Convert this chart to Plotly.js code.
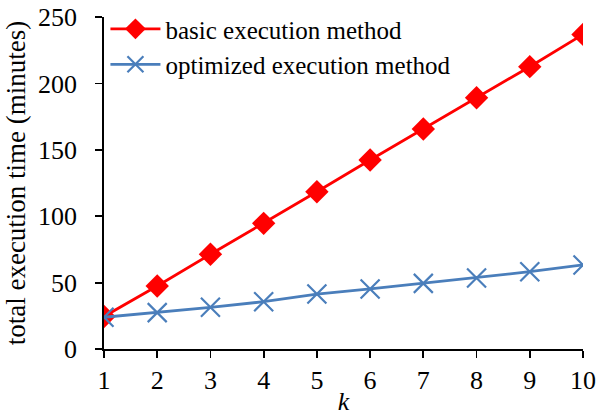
<!DOCTYPE html>
<html><head><meta charset="utf-8">
<script src="https://cdn.plot.ly/plotly-3.0.1.min.js"></script>
<style>body{margin:0;background:#fff}#c{width:604px;height:416px}</style>
</head><body><div id="c"></div>
<script>
const k = [1, 2, 3, 4, 5, 6, 7, 8, 9, 10];
const basic = [24.5, 47.4, 71.3, 94.6, 118.4, 142.3, 165.7, 189.2, 212.6, 236.9];
const optimized = [23.9, 27.4, 31.4, 35.6, 41.4, 45.2, 49.4, 53.5, 58.2, 63.3];
const seriesNames = ['basic execution method', 'optimized execution method'];
const xTicks = k;
const yTicks = [0, 50, 100, 150, 200, 250];
const font = 'Liberation Serif, Times New Roman, serif';

const traces = [
  {x: k, y: basic, name: seriesNames[0], mode: 'lines+markers',
   line: {color: '#ff0000', width: 2.8},
   marker: {symbol: 'diamond', size: 18, color: '#ff0000'}},
  {x: k, y: optimized, name: seriesNames[1], mode: 'lines+markers',
   line: {color: '#4a7ebb', width: 2.8},
   marker: {symbol: 'x-thin-open', size: 19, color: '#4a7ebb', line: {color: '#4a7ebb', width: 2.2}}}
];
const layout = {
  width: 604, height: 416,
  margin: {l: 104, r: 21, t: 17, b: 67, autoexpand: false},
  paper_bgcolor: '#fff', plot_bgcolor: '#fff',
  font: {family: font, size: 26, color: '#000'},
  showlegend: true,
  legend: {x: 0.003, y: 1.033, xanchor: 'left', yanchor: 'top', bgcolor: 'rgba(0,0,0,0)',
           font: {family: font, size: 25, color: '#000'}, tracegroupgap: 0, itemwidth: 50},
  xaxis: {range: [1, 10], tickvals: xTicks, ticktext: xTicks.map(String), showgrid: false, zeroline: false,
          showline: true, linecolor: '#000', linewidth: 1.8, ticks: 'outside', ticklen: 7, tickwidth: 1.8, tickcolor: '#000',
          tickfont: {family: font, size: 26}, title: {text: '<i>k</i>', font: {family: font, size: 26}, standoff: 0}},
  yaxis: {range: [0, 250], tickvals: yTicks, showgrid: false, zeroline: false,
          showline: true, linecolor: '#000', linewidth: 1.8, ticks: 'outside', ticklen: 7, tickwidth: 1.8, tickcolor: '#000',
          ticklabelstandoff: 13,
          tickfont: {family: font, size: 26}, title: {text: 'total execution time (minutes)', font: {family: font, size: 27}, standoff: 4}}
};
Plotly.newPlot('c', traces, layout, {displayModeBar: false, staticPlot: true});
</script></body></html>
